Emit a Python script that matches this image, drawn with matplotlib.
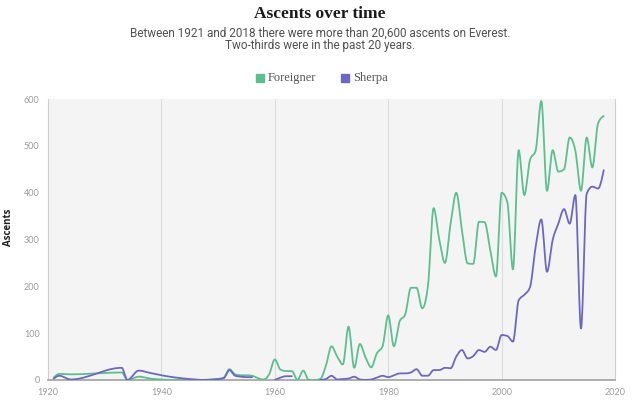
import numpy as np
import matplotlib.pyplot as plt
from matplotlib.patches import Rectangle

nan = np.nan

early_years = [1921, 1922, 1924, 1933, 1934, 1936, 1938, 1940, 1942, 1944, 1946, 1947, 1950]
early_foreigner = [5, 13, 12, 16, 0, 7, 3, 1, 0, 0, 0, 0, 2]
early_sherpa = [3, 9, 1, 26, 0, 20, 15, 10, 6, 3, 1, 0, 2]

years = early_years + list(range(1951, 2019))
foreigner = early_foreigner + [
    5, 23, 12, 10, 10, 9, 4, 1, 12,            # 1951-1959
    44, 22, 19, 19, 0, 20, 0, 0, 2, 30,        # 1960s
    72, 50, 33, 114, 26, 77, 48, 27, 57, 72,   # 1970s
    138, 72, 125, 140, 197, 197, 153, 200, 367, 300,  # 1980s
    250, 334, 400, 320, 249, 248, 338, 337, 277, 221,  # 1990s
    400, 380, 236, 491, 395, 470, 490, 596, 404, 491,  # 2000s
    445, 450, 518, 490, 404, 518, 454, 548, 564,       # 2010-2018
]
sherpa = early_sherpa + [
    4, 21, 9, 7, 6, 6, nan, nan, nan,
    0, 5, 8, 8, nan, nan, nan, nan, 0, 2,
    9, 1, 2, 3, 7, 1, 0, 1, 5, 9,
    6, 10, 14, 14, 16, 23, 9, 9, 21, 21,
    26, 25, 50, 64, 46, 51, 64, 60, 71, 64,
    96, 94, 82, 170, 182, 198, 285, 343, 231, 299,
    334, 365, 334, 395, 110, 398, 413, 409, 448,
]

green = "#5cbf8e"
purple = "#6c67c3"


def tangents(x, y):
    # steffen monotone slopes (like d3 curveMonotoneX)
    h = np.diff(x)
    s = np.diff(y) / h
    m = np.zeros(len(x))
    for i in range(1, len(x) - 1):
        p = (s[i - 1] * h[i] + s[i] * h[i - 1]) / (h[i - 1] + h[i])
        m[i] = (np.sign(s[i - 1]) + np.sign(s[i])) * min(abs(s[i - 1]), abs(s[i]), 0.5 * abs(p))
    if len(x) > 2:
        m[0] = (3 * s[0] - m[1]) / 2
        m[-1] = (3 * s[-1] - m[-2]) / 2
    else:
        m[:] = s[0]
    return m


def smooth(xs, ys, n=16):
    xs = np.asarray(xs, float)
    ys = np.asarray(ys, float)
    ok = ~np.isnan(ys)
    pieces = []
    start = None
    for i in range(len(xs) + 1):
        if i < len(xs) and ok[i]:
            if start is None:
                start = i
        elif start is not None:
            pieces.append((start, i))
            start = None
    out = []
    for a, b in pieces:
        x, y = xs[a:b], ys[a:b]
        if len(x) < 2:
            continue
        m = tangents(x, y)
        px, py = [], []
        for i in range(len(x) - 1):
            h = x[i + 1] - x[i]
            t = np.linspace(0, 1, n, endpoint=False)
            h00 = 2 * t**3 - 3 * t**2 + 1
            h10 = t**3 - 2 * t**2 + t
            h01 = -2 * t**3 + 3 * t**2
            h11 = t**3 - t**2
            px.append(x[i] + t * h)
            py.append(h00 * y[i] + h10 * h * m[i] + h01 * y[i + 1] + h11 * h * m[i + 1])
        px.append([x[-1]])
        py.append([y[-1]])
        out.append((np.concatenate(px), np.concatenate(py)))
    return out


fig = plt.figure(figsize=(6.4, 4.13), dpi=100)
ax = fig.add_axes([0.075, 0.08, 0.886, 0.68])
ax.set_facecolor("#f4f4f5")

for sx, sy in smooth(years, foreigner):
    ax.plot(sx, sy, color=green, lw=1.3, solid_capstyle="round", zorder=3)
for sx, sy in smooth(years, sherpa):
    ax.plot(sx, sy, color=purple, lw=1.3, solid_capstyle="round", zorder=3)

ax.set_xlim(1920, 2020)
ax.set_ylim(0, 600)
ax.set_xticks([1920, 1940, 1960, 1980, 2000, 2020])
ax.set_yticks(range(0, 601, 100))
for x in [1940, 1960, 1980, 2000]:
    ax.axvline(x, color="#dcdcdc", lw=0.8, zorder=1)
ax.tick_params(length=0, labelsize=6.5, labelcolor="#9a9a9a", pad=6)
for lab in ax.get_xticklabels() + ax.get_yticklabels():
    lab.set_family("Lato")
ax.spines["top"].set_visible(False)
ax.spines["left"].set_color("#cfcfcf")
ax.spines["right"].set_color("#cfcfcf")
ax.spines["left"].set_linewidth(0.8)
ax.spines["right"].set_linewidth(0.8)
ax.spines["bottom"].set_color("#a8a8a8")
ax.spines["bottom"].set_linewidth(1.3)

fig.text(0.014, 0.45, "Ascents", rotation=90, ha="center", va="center",
         fontsize=7, fontweight="bold", family="Open Sans", color="#222222")

fig.text(0.5, 0.966, "Ascents over time", ha="center", va="center",
         fontsize=12.5, fontweight="bold", family="Liberation Serif", color="#1a1a1a")
fig.text(0.5, 0.919, "Between 1921 and 2018 there were more than 20,600 ascents on Everest.",
         ha="center", va="center", fontsize=8.5, family="Roboto", color="#505050")
fig.text(0.5, 0.889, "Two-thirds were in the past 20 years.",
         ha="center", va="center", fontsize=8.5, family="Roboto", color="#505050")

# legend
ly = 0.811
fig.patches.append(Rectangle((0.4, ly - 0.0097), 0.0125, 0.0194, transform=fig.transFigure,
                             color=green, figure=fig))
fig.text(0.419, ly, "Foreigner", ha="left", va="center", fontsize=9,
         family="Liberation Serif", color="#555555")
fig.patches.append(Rectangle((0.533, ly - 0.0097), 0.0125, 0.0194, transform=fig.transFigure,
                             color=purple, figure=fig))
fig.text(0.552, ly, "Sherpa", ha="left", va="center", fontsize=9,
         family="Liberation Serif", color="#555555")

fig.savefig("out.png", dpi=100, facecolor="white")
